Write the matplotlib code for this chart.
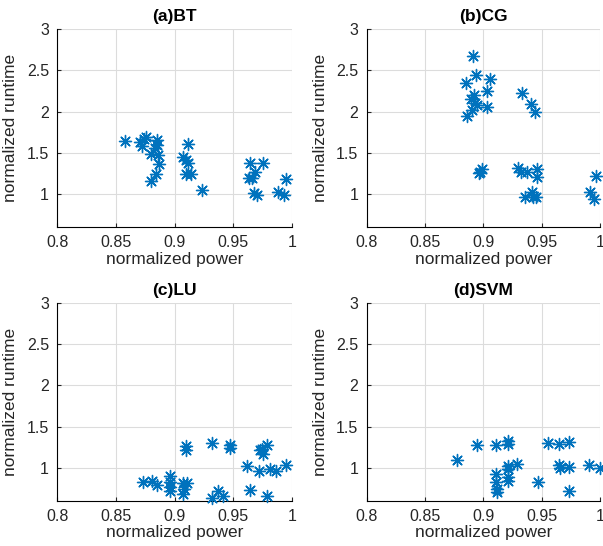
"""
Normalized runtime vs normalized power, four benchmarks in a 2x2 grid.
"""
import matplotlib
matplotlib.use('Agg')
import matplotlib.pyplot as plt

plt.rcParams['font.family'] = ['Liberation Sans', 'DejaVu Sans']

titles = ['(a)BT', '(b)CG', '(c)LU', '(d)SVM']

bt_power = [0.858, 0.8705, 0.872, 0.8756, 0.874, 0.8847, 0.8847, 0.883, 0.8796, 0.886,
            0.8866, 0.8838, 0.8796, 0.9117, 0.9069, 0.9097, 0.9117, 0.9097, 0.9137, 0.9236,
            0.9642, 0.975, 0.9685, 0.9634, 0.9657, 0.9676, 0.970, 0.9883, 0.9932, 0.9946]
bt_runtime = [1.646, 1.634, 1.585, 1.687, 1.663, 1.655, 1.594, 1.554, 1.485, 1.473,
              1.364, 1.242, 1.158, 1.606, 1.452, 1.412, 1.372, 1.239, 1.239, 1.045,
              1.372, 1.372, 1.27, 1.198, 1.198, 1.008, 0.988, 1.028, 0.988, 1.182]

cg_power = [0.8909, 0.8937, 0.8851, 0.9057, 0.9029, 0.892, 0.8894, 0.8929, 0.8948, 0.8906,
            0.9029, 0.8862, 0.9332, 0.9406, 0.9443, 0.8965, 0.8986, 0.897, 0.930, 0.9322,
            0.9371, 0.9457, 0.9457, 0.9357, 0.9414, 0.9428, 0.9449, 0.9914, 0.9951, 0.9963]
cg_runtime = [2.673, 2.442, 2.349, 2.39, 2.252, 2.2, 2.148, 2.1, 2.079, 2.018,
              2.051, 1.949, 2.228, 2.091, 1.99, 1.251, 1.30, 1.27, 1.312, 1.27,
              1.27, 1.30, 1.21, 0.96, 1.028, 0.967, 0.96, 1.028, 0.94, 1.218]

lu_power = [0.8728, 0.8804, 0.8847, 0.896, 0.896, 0.896, 0.896, 0.9069, 0.9108, 0.908,
            0.9069, 0.9097, 0.9097, 0.9316, 0.9472, 0.9472, 0.9372, 0.9316, 0.941, 0.962,
            0.9643, 0.9721, 0.9742, 0.9756, 0.9785, 0.9813, 0.9864, 0.9785, 0.9946, 0.973]
lu_runtime = [0.824, 0.833, 0.796, 0.894, 0.824, 0.763, 0.715, 0.812, 0.817, 0.744,
              0.683, 1.26, 1.211, 1.30, 1.272, 1.244, 0.715, 0.634, 0.662, 1.02,
              0.732, 0.959, 1.232, 1.171, 1.28, 0.988, 0.955, 0.662, 1.037, 1.21]

svm_power = [0.8771, 0.8948, 0.9108, 0.9209, 0.921, 0.9209, 0.9291, 0.9108, 0.9108, 0.9114,
             0.9114, 0.9209, 0.9209, 0.9471, 0.9552, 0.9649, 0.9734, 0.9649, 0.9657, 0.9734,
             0.9734, 0.9906, 1.0, 0.921]
svm_runtime = [1.098, 1.28, 1.28, 1.32, 1.293, 1.02, 1.049, 0.927, 0.824, 0.744,
               0.703, 0.886, 0.845, 0.824, 1.30, 1.293, 1.313, 1.028, 1.0, 1.004,
               0.715, 1.028, 0.995, 0.98]

powers = [bt_power, cg_power, lu_power, svm_power]
runtimes = [bt_runtime, cg_runtime, lu_runtime, svm_runtime]

fig = plt.figure(figsize=(6.03, 5.46), dpi=100)
boxes = [[0.095, 0.584, 0.389, 0.363],
         [0.608, 0.584, 0.387, 0.363],
         [0.095, 0.083, 0.389, 0.362],
         [0.608, 0.083, 0.387, 0.362]]

for i in range(4):
    ax = fig.add_axes(boxes[i])
    ax.scatter(powers[i], runtimes[i], marker=(8, 2, 0), s=75, color='#0072BD',
               linewidths=1.0, zorder=3, clip_on=False)
    ax.set_xlim(0.8, 1.0)
    ax.set_ylim(0.6, 3)
    ax.set_xticks([0.8, 0.85, 0.9, 0.95, 1.0])
    ax.set_xticklabels(['0.8', '0.85', '0.9', '0.95', '1'])
    ax.set_yticks([1, 1.5, 2, 2.5, 3])
    ax.set_yticklabels(['1', '1.5', '2', '2.5', '3'])
    ax.grid(True, color='#dcdcdc', linewidth=0.8)
    ax.set_axisbelow(True)
    ax.spines['top'].set_visible(False)
    ax.spines['right'].set_visible(False)
    ax.spines['left'].set_linewidth(0.8)
    ax.spines['bottom'].set_linewidth(0.8)
    ax.tick_params(direction='in', length=3, labelsize=11.5, colors='#262626',
                   labelcolor='#262626', pad=6)
    ax.set_xlabel('normalized power', fontsize=12.5, color='#262626', labelpad=1)
    ax.set_ylabel('normalized runtime', fontsize=12.5, color='#262626', labelpad=6)
    ax.set_title(titles[i], fontsize=12.5, fontweight='bold', pad=6)

fig.savefig('out.png', dpi=100)
